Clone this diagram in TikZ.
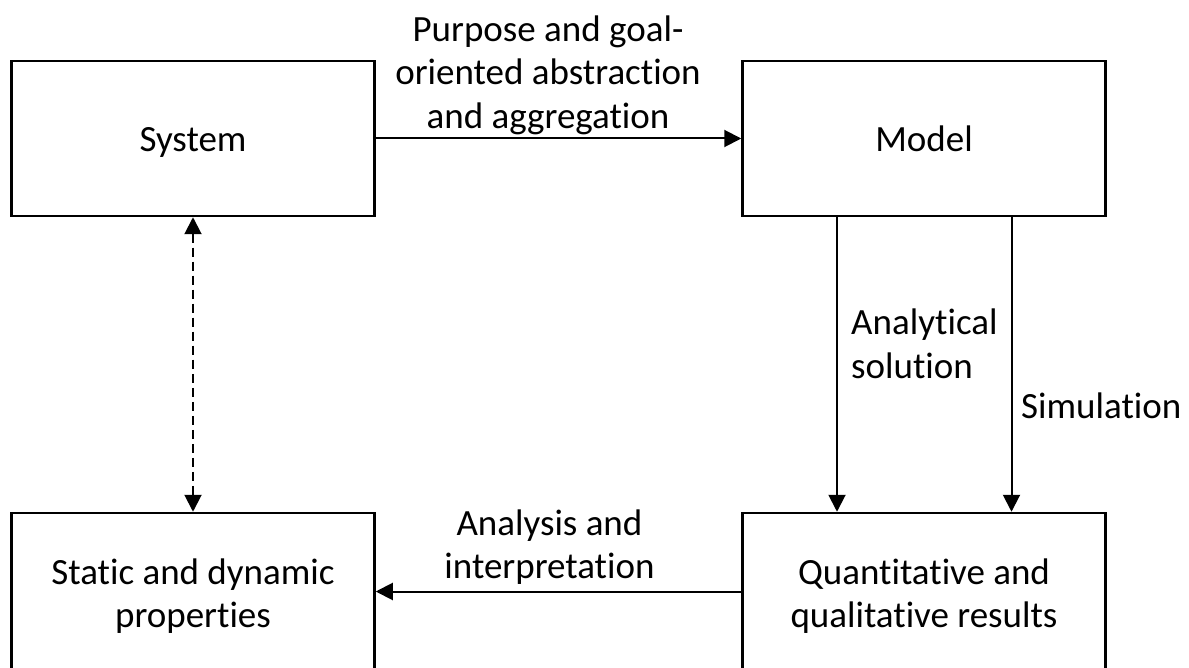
\documentclass[tikz,border=0pt]{standalone}
\usepackage{fontspec}
\setmainfont{Carlito}[RawFeature=-liga]
\usetikzlibrary{arrows.meta}
\begin{document}
\begin{tikzpicture}[x=1pt,y=-1pt,
  txt/.style={font=\fontsize{37}{43.5}\selectfont, inner sep=0pt},
  block/.style={txt, draw, line width=2.5pt, minimum width=363pt, align=center},
  topblock/.style={block, minimum height=155pt, text height=27pt, text depth=0pt},
  lowblock/.style={block, minimum height=166pt},
  link/.style={line width=2pt, -{Triangle[length=17pt,width=17pt]}},
  twoway/.style={line width=2pt, dash pattern=on 9pt off 5pt,
    {Triangle[length=17pt,width=17pt]}-{Triangle[length=17pt,width=17pt]}},
]
\useasboundingbox (0,0) rectangle (1189,668);
\clip (0,0) rectangle (1189,668);

% the four blocks (the lower ones run past the bottom edge)
\node[topblock] (sys) at (193,138.5) {System};
\node[topblock] (mod) at (924,138.5) {Model};
\node[lowblock] (props) at (193,596) {Static and dynamic\\properties};
\node[lowblock] (res) at (924,596) {Quantitative and\\qualitative results};

% connectors
\draw[link] (sys.east) -- (mod.west);
\draw[twoway] (sys.south) -- (props.north);
\draw[link] ([xshift=-87pt]mod.south) -- ([xshift=-87pt]res.north);
\draw[link] ([xshift=87.5pt]mod.south) -- ([xshift=87.5pt]res.north);
\draw[link] ([yshift=4.5pt]res.west) -- ([yshift=4.5pt]props.east);

% connector labels
\node[txt, align=center, anchor=south] (abs) at (548,135)
  {Purpose and goal-\\oriented abstraction\\and aggregation};
\node[txt, align=center, anchor=south] (ana) at (549.5,585)
  {Analysis and\\interpretation};
\node[txt, align=left, anchor=north west] (sol) at (851,309)
  {Analytical\\solution};
\node[txt, anchor=base west] (sim) at (1021,418) {Simulation};
\end{tikzpicture}
\end{document}
